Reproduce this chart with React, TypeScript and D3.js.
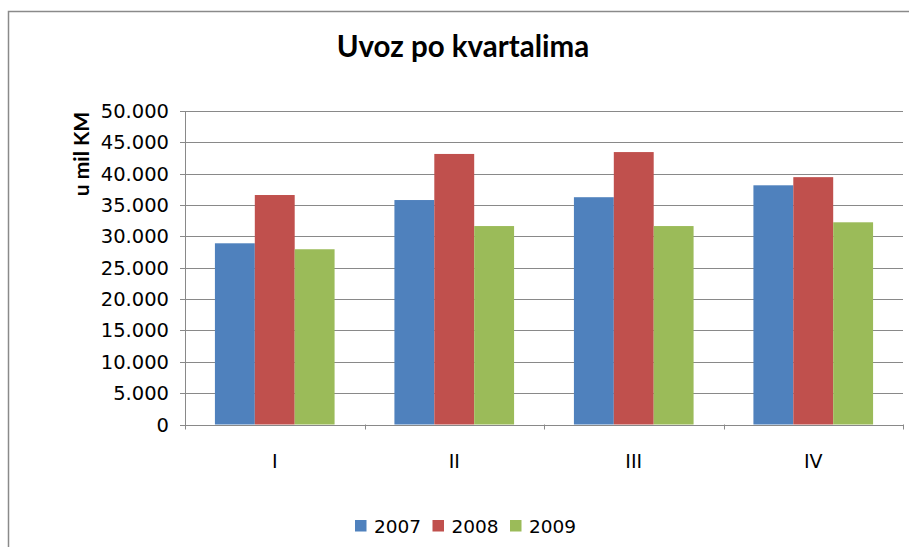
import React from "react";
import * as d3 from "d3";

const categories = ["I", "II", "III", "IV"];
const seriesNames = ["2007", "2008", "2009"];
const values2007 = [28900, 35800, 36250, 38150];
const values2008 = [36600, 43150, 43450, 39450];
const values2009 = [27950, 31650, 31650, 32250];
const seriesValues = [values2007, values2008, values2009];
const seriesColors = ["#4F81BD", "#C0504D", "#9BBB59"];
const yTicks = [0, 5000, 10000, 15000, 20000, 25000, 30000, 35000, 40000, 45000, 50000];
const titleText = "Uvoz po kvartalima";
const yAxisTitle = "u mil KM";

const W = 909;
const H = 547;
const plotLeft = 185;
const plotRight = 903;
const plotTop = 111;
const plotBottom = 424.5;
const tickFont = "'DejaVu Sans', sans-serif";
const titleFont = "Lato, 'DejaVu Sans', sans-serif";

const locale = d3.formatLocale({ decimal: ",", thousands: ".", grouping: [3], currency: ["", ""] });
const fmt = locale.format(",");

export default function App() {
  const x = d3.scaleBand<string>().domain(categories).range([plotLeft, plotRight]).paddingInner(0).paddingOuter(0);
  const xi = d3.scaleBand<string>().domain(seriesNames).range([0, x.bandwidth()]).paddingInner(0).paddingOuter(0.75);
  const y = d3.scaleLinear().domain([0, 50000]).range([plotBottom, plotTop]);
  const legendX = d3.scalePoint<string>().domain(seriesNames).range([355, 510]);
  const gridColor = "#898989";

  return (
    <svg width={W} height={H} style={{ position: "absolute", left: 0, top: 0, background: "#fff" }}>
      <rect x={8.5} y={11.5} width={W + 10} height={H + 10} fill="#fff" stroke="#8a8a8a" strokeWidth={1.5} />
      <text x={463} y={57} textAnchor="middle" fontFamily={titleFont} fontWeight="bold" fontSize={29.5} fill="#000">
        {titleText}
      </text>
      <text
        transform={`translate(89,154) rotate(-90)`}
        textAnchor="middle"
        fontFamily={titleFont}
        fontWeight="bold"
        fontSize={21}
        fill="#000"
      >
        {yAxisTitle}
      </text>
      {yTicks.map((t) => (
        <g key={t}>
          <line x1={plotLeft - 5} x2={plotRight} y1={Math.round(y(t)) + 0.5} y2={Math.round(y(t)) + 0.5} stroke={gridColor} strokeWidth={1} />
          <text x={169} y={y(t)} dy="0.36em" textAnchor="end" fontFamily={tickFont} fontSize={19.5} fill="#000">
            {fmt(t)}
          </text>
        </g>
      ))}
      <line x1={plotLeft + 0.5} x2={plotLeft + 0.5} y1={plotTop} y2={plotBottom + 5} stroke={gridColor} strokeWidth={1} />
      {categories.map((c) => (
        <line key={"t" + c} x1={Math.round(x(c)! + x.bandwidth()) + 0.5} x2={Math.round(x(c)! + x.bandwidth()) + 0.5} y1={plotBottom} y2={plotBottom + 5} stroke={gridColor} strokeWidth={1} />
      ))}
      {seriesNames.map((s, si) => (
        <g key={s}>
          {categories.map((c, ci) => (
            <rect
              key={c}
              x={x(c)! + xi(s)!}
              y={y(seriesValues[si][ci])}
              width={xi.bandwidth()}
              height={y(0) - y(seriesValues[si][ci])}
              fill={seriesColors[si]}
            />
          ))}
        </g>
      ))}
      {categories.map((c) => (
        <text key={"l" + c} x={x(c)! + x.bandwidth() / 2} y={461} dy="0.36em" textAnchor="middle" fontFamily={tickFont} fontSize={19} fill="#000">
          {c}
        </text>
      ))}
      {seriesNames.map((s, si) => (
        <g key={"lg" + s} transform={`translate(${legendX(s)},520)`}>
          <rect x={0} y={0} width={11.5} height={11.5} fill={seriesColors[si]} />
          <text x={19} y={6} dy="0.36em" fontFamily={tickFont} fontSize={18.5} fill="#000">
            {s}
          </text>
        </g>
      ))}
    </svg>
  );
}
